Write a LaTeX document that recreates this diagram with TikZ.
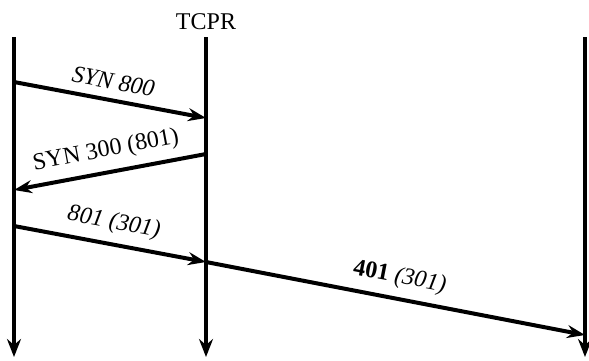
\documentclass[tikz,border=0pt]{standalone}
\usepackage{fontspec}
\setmainfont{Liberation Serif}
\usetikzlibrary{arrows.meta, positioning}
\tikzset{
	lifeline/.style={
		-{Stealth[length=9pt, width=7pt, inset=3pt]},
		line width=2pt
	},
	message/.style={
		-{Stealth[length=9pt, width=6.5pt, inset=3pt]},
		line width=2pt
	},
	msglabel/.style={
		above=1pt,
		sloped,
		font=\fontsize{12}{14}\selectfont
	}
}

\begin{document}
\begin{tikzpicture}[x=0.5pt, y=-0.5pt]
		\useasboundingbox (0,0) rectangle (589,360);
		
		% lifelines
		\coordinate (hosttop)  at (14,37);
		\coordinate (hostbot)  at (14,357);
		\coordinate (tcprtop)  at (206,37);
		\coordinate (tcprbot)  at (206,357);
		\coordinate (peertop)  at (585,37);
		\coordinate (peerbot)  at (585,357);
		\node (tcpr) [above=0pt of tcprtop, font=\fontsize{12}{14}\selectfont] {TCPR};
		
		\draw [lifeline] (hosttop) -- (hostbot);
		\draw [lifeline] (tcprtop) -- (tcprbot);
		\draw [lifeline] (peertop) -- (peerbot);
		
		% message end points
		\coordinate (synout)  at (14,82);
		\coordinate (synin)   at (206,118);
		\coordinate (ackout)  at (206,154);
		\coordinate (ackin)   at (14,190);
		\coordinate (dataout) at (14,226);
		\coordinate (datamid) at (206,262);
		\coordinate (datain)  at (585,335);
		
		% messages
		\draw [message] (synout)  -- node [msglabel] {\textit{SYN 800}} (synin);
		\draw [message] (ackout)  -- node [msglabel] {SYN 300 (801)} (ackin);
		\draw [message] (dataout) -- node [msglabel] {\textit{801 (301)}} (datamid);
		\draw [message] (datamid) -- node [msglabel] {\textbf{401} \textit{(301)}} (datain);
		
	\end{tikzpicture}
\end{document}
